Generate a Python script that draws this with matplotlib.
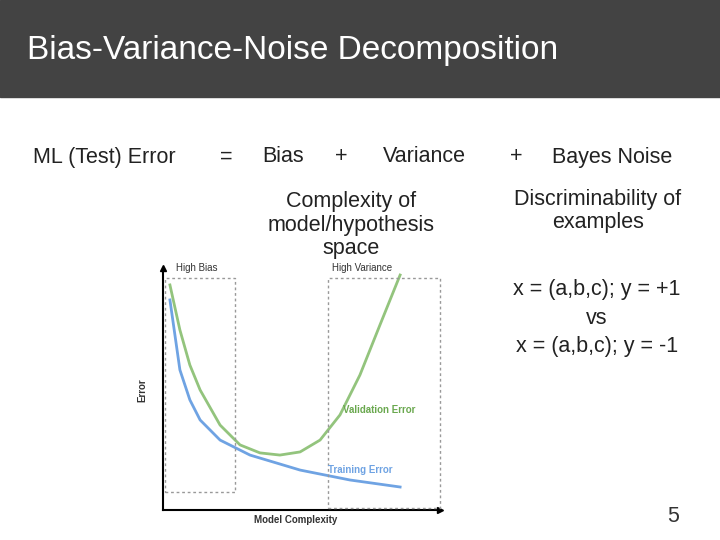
import matplotlib
matplotlib.use("Agg")
import matplotlib.pyplot as plt
from matplotlib.patches import Rectangle

plt.rcParams['font.family'] = ['Liberation Sans', 'DejaVu Sans']

train_x = [0.25, 0.61, 0.97, 1.34, 2.06, 3.14, 4.95, 6.75, 8.56]
train_y = [8.68, 5.79, 4.55, 3.72, 2.89, 2.27, 1.65, 1.24, 0.95]
val_x = [0.25, 0.61, 0.97, 1.34, 2.06, 2.78, 3.50, 4.22, 4.95, 5.67, 6.39, 7.11, 7.83, 8.56]
val_y = [9.30, 7.44, 5.99, 4.96, 3.51, 2.69, 2.36, 2.27, 2.40, 2.89, 3.93, 5.58, 7.64, 9.71]

W, H = 720, 540
fig = plt.figure(figsize=(7.2, 5.4), dpi=100)
fig.patch.set_facecolor("white")

def fx(px): return px / W
def fy(py): return 1 - py / H

fig.patches.append(Rectangle((0, fy(97)), 1, 97 / H, transform=fig.transFigure,
                             color="#434343", zorder=0))
fig.text(fx(27), fy(50), "Bias-Variance-Noise Decomposition", color="white",
         fontsize=24, va="center", ha="left")

tc = "#222222"
row = fy(157)
for x, s in [(33, "ML (Test) Error"), (220, "="), (262, "Bias"), (335, "+"),
             (383, "Variance"), (510, "+"), (552, "Bayes Noise")]:
    fig.text(fx(x), row, s, fontsize=15.5, color=tc, va="center", ha="left")

fig.text(fx(351), fy(225), "Complexity of\nmodel/hypothesis\nspace", fontsize=15.5,
         color=tc, ha="center", va="center", linespacing=1.15)
fig.text(fx(598), fy(211), "Discriminability of\nexamples", fontsize=15.5,
         color=tc, ha="center", va="center", linespacing=1.15)
fig.text(fx(597), fy(318), "x = (a,b,c); y = +1\nvs\nx = (a,b,c); y = -1",
         fontsize=15.5, color=tc, ha="center", va="center", linespacing=1.45)
fig.text(fx(673), fy(516), "5", fontsize=15.5, color="#333333", ha="center", va="center")

ax = fig.add_axes([fx(163), fy(510), 277 / W, 242 / H])
ax.set_zorder(4)
ax.set_facecolor("white")
ax.set_xlim(0, 10)
ax.set_ylim(0, 10)
ax.plot(train_x, train_y, color="#6fa3e3", lw=2)
ax.plot(val_x, val_y, color="#93c47d", lw=2)
for s in ["top", "right"]:
    ax.spines[s].set_visible(False)
for s in ["left", "bottom"]:
    ax.spines[s].set_color("black")
    ax.spines[s].set_linewidth(1.5)
ax.set_xticks([]); ax.set_yticks([])
ax.plot(0, 10, marker="^", color="black", ms=5, clip_on=False)
ax.plot(10, 0, marker=">", color="black", ms=5, clip_on=False)

for (x0, y0, x1, y1) in [(165, 278, 235, 492), (328, 278, 440, 508)]:
    r = Rectangle((fx(x0), fy(y1)), (x1 - x0) / W, (y1 - y0) / H,
                  transform=fig.transFigure, fill=False,
                  ec="#999999", ls=(0, (2, 2)), lw=1, zorder=6)
    fig.add_artist(r)

g = "#333333"
def small(x, y, s, **kw):
    t = fig.text(fx(x), fy(y), s, fontsize=7, va="center", **kw)
    t.set_zorder(7)
small(176, 268, "High Bias", color=g)
small(332, 268, "High Variance", color=g)
small(343, 410, "Validation Error", color="#6aa84f", fontweight="bold")
small(328, 470, "Training Error", color="#6fa3e3", fontweight="bold")
small(142, 390, "Error", color=g, rotation=90, ha="center", fontweight="bold")
small(296, 520, "Model Complexity", color=g, ha="center", fontweight="bold")

fig.savefig("out.png", dpi=100, facecolor="white")
